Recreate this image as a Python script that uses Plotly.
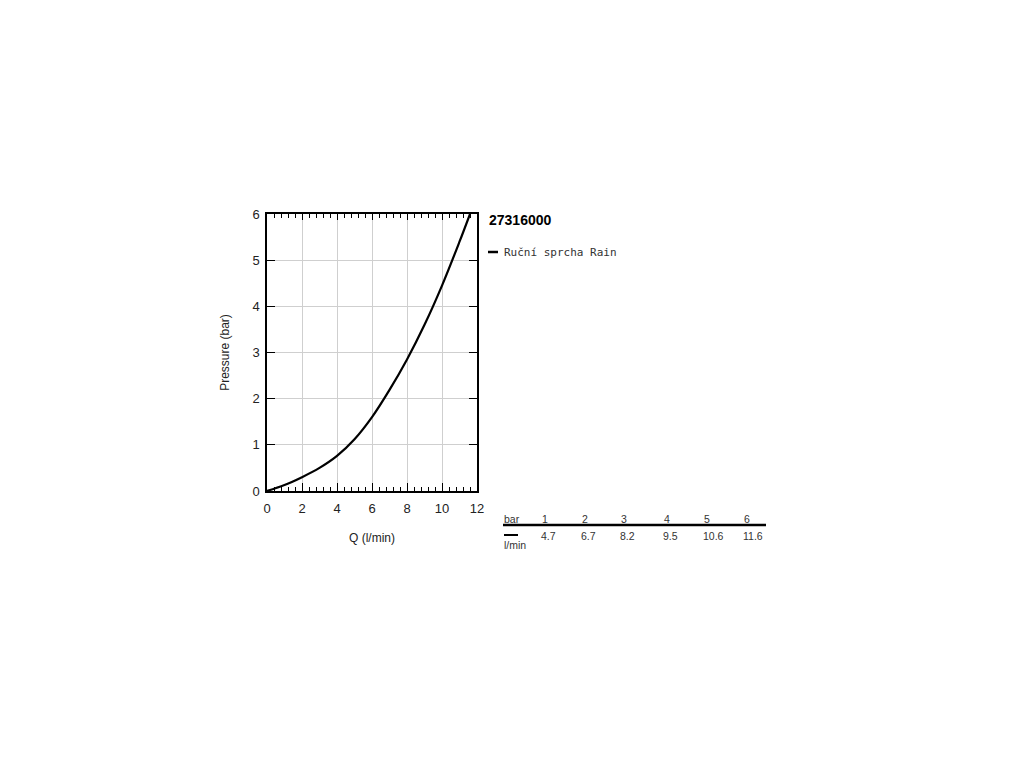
import plotly.graph_objects as go

# Data
flow_lmin = [0, 1, 2, 3, 4, 5, 6, 7, 8, 9, 10, 11, 11.6]
pressure_bar = [0, 0.13, 0.3, 0.5, 0.76, 1.12, 1.6, 2.19, 2.85, 3.6, 4.45, 5.4, 6]

table_bar = [1, 2, 3, 4, 5, 6]
table_flow = [4.7, 6.7, 8.2, 9.5, 10.6, 11.6]

title_text = "27316000"
series_name = "Ruční sprcha Rain"

# layout geometry (pixel positions of plot area on the page)
OFF = 8  # body margin of the html page
L, R, T, B = 267, 477, 214, 491
W, H = 1024, 768


def px(xp):
    return (xp - L) / (R - L)


def py(yp):
    return (B - yp) / (B - T)


fig = go.Figure()
fig.add_trace(go.Scatter(
    x=flow_lmin, y=pressure_bar, mode="lines",
    line=dict(color="black", width=2.2, shape="spline", smoothing=1.0),
    name=series_name, showlegend=False, hoverinfo="skip"))
# empty trace to create the top axis carrying the mirrored minor ticks
fig.add_trace(go.Scatter(x=[], y=[], xaxis="x2", showlegend=False, hoverinfo="skip"))

font = dict(family="Liberation Sans, Arial, sans-serif", size=13, color="#222")
title_font = dict(family="Liberation Sans, Arial, sans-serif", size=12, color="#222")

fig.update_layout(
    width=W, height=H,
    margin=dict(l=L - OFF, r=W - R + OFF, t=T - OFF, b=H - B + OFF),
    paper_bgcolor="white", plot_bgcolor="white",
    font=font,
    xaxis=dict(range=[0, 12], dtick=2, tick0=0, ticks="inside", ticklen=8, tickwidth=1,
               tickcolor="black", showline=True, linecolor="black", linewidth=1.5,
               mirror=True, showgrid=True, gridcolor="#cfcfcf", gridwidth=1,
               zeroline=False, ticklabelstandoff=5,
               title=dict(text="Q (l/min)", standoff=18, font=title_font),
               minor=dict(dtick=0.4, ticks="inside", ticklen=4, tickcolor="black", showgrid=False),
               tickfont=font),
    xaxis2=dict(range=[0, 12], overlaying="x", side="top", dtick=2, tick0=0, ticks="inside",
                ticklen=6, tickcolor="black", showticklabels=False, showgrid=False, zeroline=False,
                showline=False,
                minor=dict(dtick=0.4, ticks="inside", ticklen=4, tickcolor="black", showgrid=False)),
    yaxis=dict(range=[0, 6], dtick=1, tick0=0, ticks="inside", ticklen=8, tickwidth=1,
               tickcolor="black", showline=True, linecolor="black", linewidth=1.5,
               mirror="ticks", showgrid=True, gridcolor="#cfcfcf", gridwidth=1,
               zeroline=False, ticklabelstandoff=3,
               title=dict(text="Pressure (bar)", standoff=20, font=title_font),
               tickfont=font),
)

annotations = []
shapes = []

# Title
annotations.append(dict(x=px(487), y=py(220), xref="paper", yref="paper", text="<b>" + title_text + "</b>",
                        showarrow=False, xanchor="left", yanchor="middle",
                        font=dict(family="Liberation Sans, Arial", size=14, color="black")))
# Legend
shapes.append(dict(type="line", xref="paper", yref="paper", x0=px(488), x1=px(498), y0=py(252), y1=py(252),
                   line=dict(color="black", width=2.5)))
annotations.append(dict(x=px(502), y=py(252), xref="paper", yref="paper", text=series_name,
                        showarrow=False, xanchor="left", yanchor="middle",
                        font=dict(family="DejaVu Sans Mono, monospace", size=11, color="#333")))

# Table
small = dict(family="Liberation Sans, Arial", size=10.5, color="#333")
annotations.append(dict(x=px(502), y=py(519), xref="paper", yref="paper", text="bar", showarrow=False,
                        xanchor="left", yanchor="middle", font=small))
shapes.append(dict(type="line", xref="paper", yref="paper", x0=px(503), x1=px(766), y0=py(525), y1=py(525),
                   line=dict(color="black", width=2.5)))
shapes.append(dict(type="line", xref="paper", yref="paper", x0=px(504), x1=px(518), y0=py(535), y1=py(535),
                   line=dict(color="black", width=2)))
annotations.append(dict(x=px(502), y=py(545), xref="paper", yref="paper", text="l/min", showarrow=False,
                        xanchor="left", yanchor="middle", font=small))
col_x = [539, 579, 618, 661, 701, 741]
for cx, b, f in zip(col_x, table_bar, table_flow):
    annotations.append(dict(x=px(cx + 1), y=py(519), xref="paper", yref="paper", text=str(b), showarrow=False,
                            xanchor="left", yanchor="middle", font=small))
    annotations.append(dict(x=px(cx), y=py(536), xref="paper", yref="paper", text=str(f), showarrow=False,
                            xanchor="left", yanchor="middle", font=small))

fig.update_layout(annotations=annotations, shapes=shapes)
fig.write_html("out.html")
